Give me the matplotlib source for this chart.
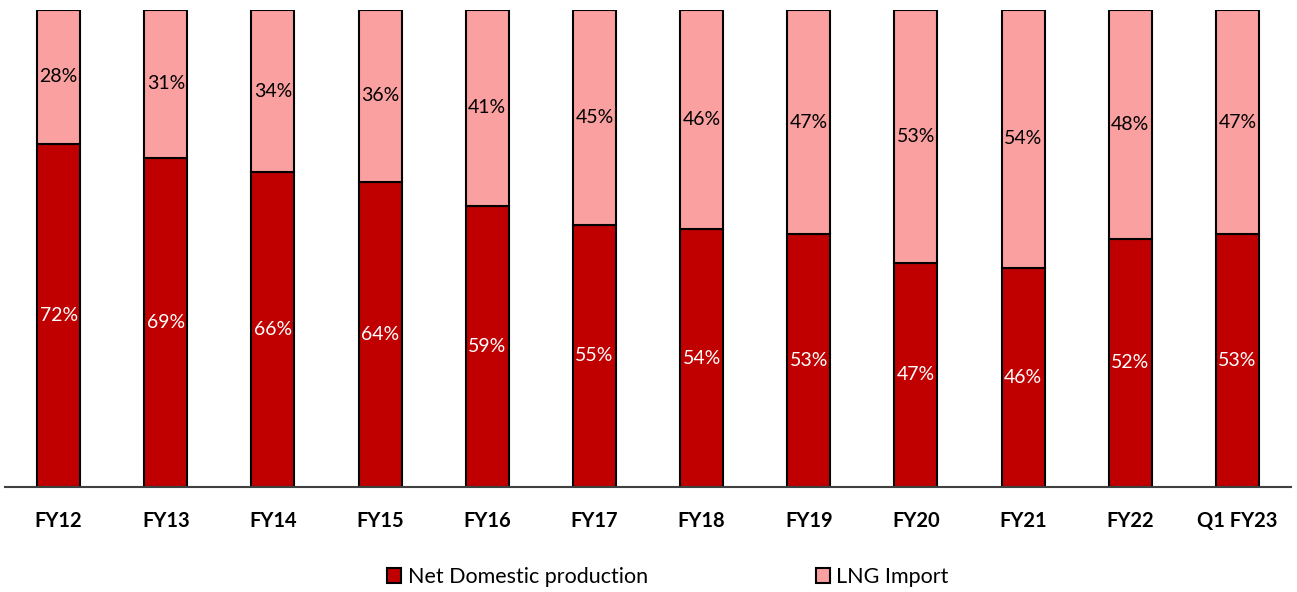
import matplotlib
matplotlib.use("Agg")
import matplotlib.pyplot as plt
import numpy as np

categories = ["FY12", "FY13", "FY14", "FY15", "FY16", "FY17", "FY18",
              "FY19", "FY20", "FY21", "FY22", "Q1 FY23"]
domestic = [72, 69, 66, 64, 59, 55, 54, 53, 47, 46, 52, 53]
lng_import = [28, 31, 34, 36, 41, 45, 46, 47, 53, 54, 48, 47]

plt.rcParams["font.family"] = ["Lato", "DejaVu Sans"]

DARK = "#C00000"
LIGHT = "#FBA0A0"

fig = plt.figure(figsize=(12.97, 5.92), dpi=100)
ax = fig.add_axes([5 / 1297, 1 - 487 / 592, 1286 / 1297, 477 / 592])

x = np.arange(len(categories))
width = 0.4
b1 = ax.bar(x, domestic, width, color=DARK, edgecolor="black", linewidth=1.5,
            label="Net Domestic production")
b2 = ax.bar(x, lng_import, width, bottom=domestic, color=LIGHT, edgecolor="black",
            linewidth=1.5, label="LNG Import")

for xi, d, l in zip(x, domestic, lng_import):
    ax.text(xi, d / 2, f"{d}%", ha="center", va="center", color="white", fontsize=14)
    ax.text(xi, d + l / 2, f"{l}%", ha="center", va="center", color="black", fontsize=14)

ax.set_xlim(-0.5, len(categories) - 0.5)
ax.set_ylim(0, 100)
ax.set_xticks(x)
ax.set_xticklabels(categories, fontsize=14.5, fontweight="bold")
ax.tick_params(axis="x", length=0, pad=17)
ax.set_yticks([])
for s in ["top", "left", "right"]:
    ax.spines[s].set_visible(False)
ax.spines["bottom"].set_color("#404040")
ax.spines["bottom"].set_linewidth(1.5)

fig.legend(handles=[b1, b2], loc="center", bbox_to_anchor=(0.515, 1 - 577 / 592),
           ncol=2, frameon=False, fontsize=15.5, columnspacing=7.8,
           handlelength=0.65, handleheight=0.65, handletextpad=0.3)

fig.savefig("out.png", dpi=100)
